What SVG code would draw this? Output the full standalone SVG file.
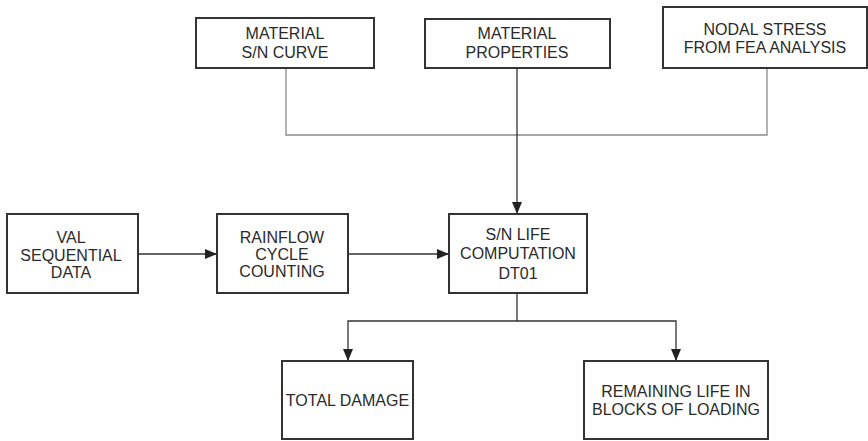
<svg xmlns="http://www.w3.org/2000/svg" width="868" height="441" viewBox="0 0 868 441">
<style>
.box{fill:#fff;stroke:#333;stroke-width:2}
.t{font-family:"Liberation Sans",Arial,sans-serif;font-size:16px;fill:#2a2a2a;text-anchor:middle}
.g{fill:none;stroke:#8a8a8a;stroke-width:1.3}
.c{fill:none;stroke:#333;stroke-width:1.3}
</style>
<defs>
<marker id="ah" viewBox="0 0 12 12" refX="12" refY="6" markerWidth="12" markerHeight="12" markerUnits="userSpaceOnUse" orient="auto">
<path d="M0,1 L12,6 L0,11 Z" fill="#222"/>
</marker>
</defs>
<rect width="868" height="441" fill="#fff"/>
<g id="connectors">
<path class="g" d="M286,68 V135 H767 V68"/>
<path class="c" d="M517,68 V214" marker-end="url(#ah)"/>
<path class="c" d="M138,254 H217" marker-end="url(#ah)"/>
<path class="c" d="M348,254 H449" marker-end="url(#ah)"/>
<path class="c" d="M517,293 V321 H348 V361" marker-end="url(#ah)"/>
<path class="c" d="M517,321 H676 V361" marker-end="url(#ah)"/>
</g>
<g id="sn_curve">
<rect class="box" x="196" y="18" width="178" height="50"/>
<text class="t" x="285" y="39">MATERIAL</text>
<text class="t" x="285" y="58">S/N CURVE</text>
</g>
<g id="mat_props">
<rect class="box" x="425" y="19" width="185" height="49"/>
<text class="t" x="517" y="39">MATERIAL</text>
<text class="t" x="517" y="58">PROPERTIES</text>
</g>
<g id="nodal_stress">
<rect class="box" x="663" y="7" width="204" height="61"/>
<text class="t" x="765" y="35">NODAL STRESS</text>
<text class="t" x="765" y="53">FROM FEA ANALYSIS</text>
</g>
<g id="val">
<rect class="box" x="7" y="214" width="131" height="79"/>
<text class="t" x="71" y="243">VAL</text>
<text class="t" x="71" y="261">SEQUENTIAL</text>
<text class="t" x="71" y="278">DATA</text>
</g>
<g id="rainflow">
<rect class="box" x="217" y="214" width="131" height="79"/>
<text class="t" x="282" y="243">RAINFLOW</text>
<text class="t" x="282" y="260">CYCLE</text>
<text class="t" x="282" y="277">COUNTING</text>
</g>
<g id="sn_life">
<rect class="box" x="449" y="214" width="138" height="79"/>
<text class="t" x="518" y="240">S/N LIFE</text>
<text class="t" x="518" y="259">COMPUTATION</text>
<text class="t" x="518" y="279">DT01</text>
</g>
<g id="total_damage">
<rect class="box" x="282" y="361" width="131" height="78"/>
<text class="t" x="347.5" y="406">TOTAL DAMAGE</text>
</g>
<g id="remaining_life">
<rect class="box" x="584" y="361" width="184" height="78"/>
<text class="t" x="676" y="397">REMAINING LIFE IN</text>
<text class="t" x="676" y="415">BLOCKS OF LOADING</text>
</g>
</svg>
